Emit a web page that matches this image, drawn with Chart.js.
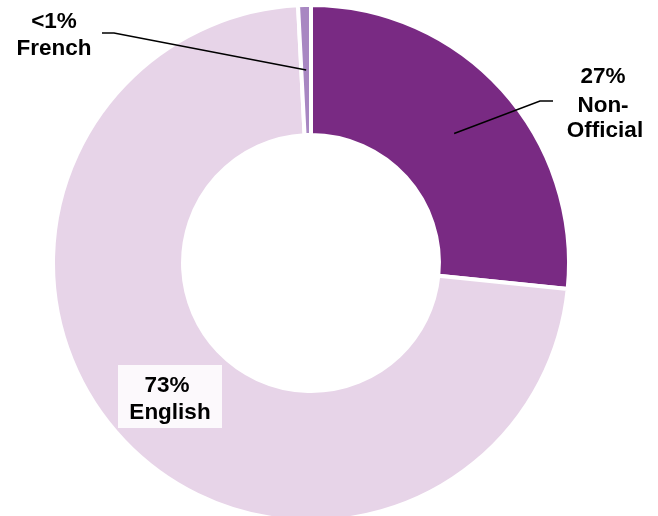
<!DOCTYPE html>
<html>
<head>
<meta charset="utf-8">
<script src="https://cdn.jsdelivr.net/npm/chart.js@4.4.1/dist/chart.umd.min.js"></script>
<style>
  html, body { margin: 0; padding: 0; background: #fff; }
  #wrap { width: 658px; height: 516px; overflow: hidden; position: relative; }
</style>
</head>
<body>
<div id="wrap"><canvas id="chart" width="658" height="516"></canvas></div>
<script>
// data
const categories = ["Non-Official", "English", "French"];
const shares = [26.6, 72.6, 0.8];
const percentLabels = ["27%", "73%", "<1%"];
const sliceColors = ["#792a83", "#e7d4e8", "#a887c2"];

// label layout: lines of text with [x, baseline y]
const labelLines = [
  [["27%", 603, 83], ["Non-", 603, 112], ["Official", 605, 137]],
  [["73%", 167, 392], ["English", 170, 419]],
  [["<1%", 54, 28], ["French", 54, 55]],
];
// leader lines: elbow point, end point (null = no line)
const leaders = [
  [[540, 101], [553, 101]],
  null,
  [[114, 33], [102, 33]],
];

const labelPlugin = {
  id: "sliceLabels",
  afterDraw(chart) {
    const ctx = chart.ctx;
    const arcs = chart.getDatasetMeta(0).data;
    ctx.save();

    // box behind English label
    ctx.fillStyle = "rgba(255,255,255,0.85)";
    ctx.fillRect(118, 365, 104, 63);

    // leader lines from middle of each slice
    ctx.strokeStyle = "#000";
    ctx.lineWidth = 1.5;
    leaders.forEach((ld, i) => {
      if (!ld) return;
      const p = arcs[i].tooltipPosition();
      ctx.beginPath();
      ctx.moveTo(p.x, p.y);
      ctx.lineTo(ld[0][0], ld[0][1]);
      ctx.lineTo(ld[1][0], ld[1][1]);
      ctx.stroke();
    });

    ctx.fillStyle = "#000";
    ctx.font = "bold 22.5px 'Liberation Sans', Arial, sans-serif";
    ctx.textAlign = "center";
    ctx.textBaseline = "alphabetic";
    labelLines.forEach((lines) => {
      lines.forEach(([txt, x, y]) => ctx.fillText(txt, x, y));
    });
    ctx.restore();
  },
};

new Chart(document.getElementById("chart"), {
  type: "doughnut",
  data: {
    labels: categories,
    datasets: [
      {
        data: shares,
        backgroundColor: sliceColors,
        borderColor: "#ffffff",
        borderWidth: 4,
        hoverOffset: 0,
      },
    ],
  },
  options: {
    responsive: false,
    animation: false,
    radius: 258,
    cutout: "49.6%",
    layout: { padding: { left: 55, right: 91, top: 10, bottom: 0 } },
    plugins: {
      legend: { display: false },
      tooltip: { enabled: false },
    },
  },
  plugins: [labelPlugin],
});
</script>
</body>
</html>
